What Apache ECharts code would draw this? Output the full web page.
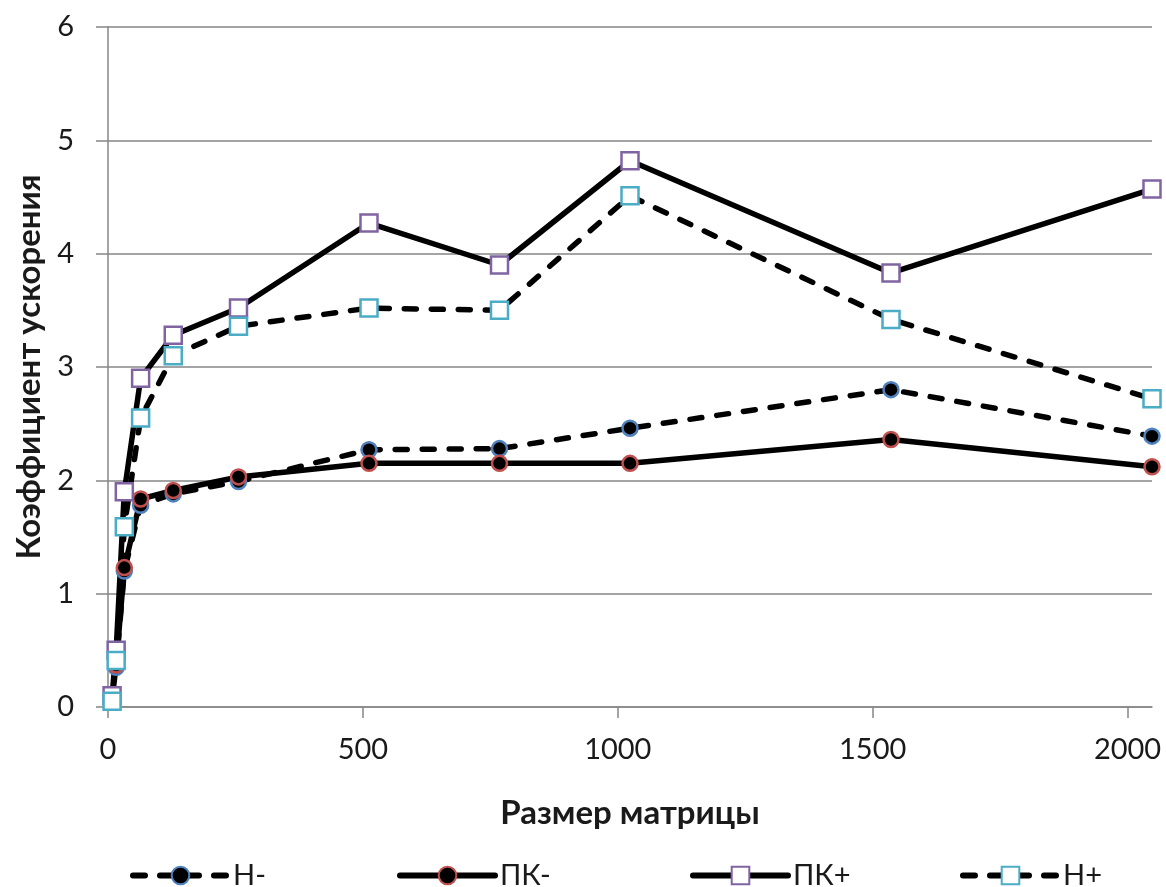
<!DOCTYPE html>
<html>
<head>
<meta charset="utf-8">
<script src="https://cdn.jsdelivr.net/npm/echarts@6/dist/echarts.min.js"></script>
<style>
html,body{margin:0;padding:0;background:#fff;}
#chart{width:1166px;height:887px;}
</style>
</head>
<body>
<div id="chart"></div>
<script>
const sizes = [8, 16, 32, 64, 128, 256, 512, 768, 1024, 1536, 2048];
const seriesNames = ['Н-', 'ПК-', 'ПК+', 'Н+'];
const hMinus  = [0.06, 0.35, 1.20, 1.78, 1.88, 1.99, 2.27, 2.28, 2.46, 2.80, 2.39];
const pkMinus = [0.07, 0.37, 1.23, 1.835, 1.91, 2.03, 2.15, 2.15, 2.15, 2.36, 2.12];
const pkPlus  = [0.10, 0.50, 1.90, 2.90, 3.28, 3.52, 4.27, 3.90, 4.82, 3.83, 4.57];
const hPlus   = [0.05, 0.41, 1.59, 2.55, 3.10, 3.36, 3.52, 3.50, 4.51, 3.42, 2.72];
const xTicks = [0, 500, 1000, 1500, 2000];
const yTicks = [0, 1, 2, 3, 4, 5, 6];

const FONT = 'Lato, "Open Sans", sans-serif';
const TXT = '#1a1a1a';
const GRID = '#868686';
const pair = arr => sizes.map((x, i) => [x, arr[i]]);
const dash = [12, 15];

function mk(name, data, dashed, symbol, fill, border, size) {
  return {
    name, type: 'line', data: pair(data),
    symbol, symbolSize: size,
    lineStyle: { color: '#000', width: 5.5, type: dashed ? dash : 'solid', cap: 'round', join: 'round' },
    itemStyle: { color: fill, borderColor: border, borderWidth: 2.5 },
    emphasis: { disabled: true },
    z: 2
  };
}

const chart = echarts.init(document.getElementById('chart'), null, { renderer: 'canvas' });

function legendAt(name, left) {
  return {
    data: [name], left, top: 861, orient: 'horizontal',
    itemWidth: 95, itemHeight: 22, itemGap: 0, padding: 0,
    lineStyle: { width: 6 },
    textStyle: { fontFamily: FONT, fontSize: 29, color: TXT }
  };
}

chart.setOption({
  animation: false,
  backgroundColor: '#fff',
  grid: { left: 108, right: 14, top: 27, bottom: 180, containLabel: false, outerBoundsMode: 'none' },
  legend: [
    legendAt('Н-', 130),
    legendAt('ПК-', 397),
    legendAt('ПК+', 690),
    legendAt('Н+', 960)
  ],
  xAxis: {
    type: 'value', min: 0, max: 2048,
    name: 'Размер матрицы', nameLocation: 'middle', nameGap: 90,
    nameTextStyle: { fontFamily: FONT, fontSize: 33, fontWeight: 'bold', color: TXT },
    axisLine: { show: true, lineStyle: { color: GRID, width: 1.5 } },
    axisTick: { show: true, length: 11, customValues: xTicks, lineStyle: { color: GRID, width: 1.5 } },
    axisLabel: { customValues: xTicks, formatter: v => String(v), fontFamily: FONT, fontSize: 29, color: TXT, margin: 28 },
    splitLine: { show: false }
  },
  yAxis: {
    type: 'value', min: 0, max: 6, interval: 1,
    name: 'Коэффициент ускорения', nameLocation: 'middle', nameGap: 62,
    nameTextStyle: { fontFamily: FONT, fontSize: 33, fontWeight: 'bold', color: TXT },
    axisLine: { show: true, lineStyle: { color: GRID, width: 1.5 } },
    axisTick: { show: true, length: 12, lineStyle: { color: GRID, width: 1.5 } },
    axisLabel: { formatter: v => String(v), fontFamily: FONT, fontSize: 29, color: TXT, margin: 34 },
    splitLine: { show: true, lineStyle: { color: GRID, width: 1.5 } }
  },
  series: [
    mk(seriesNames[0], hMinus, true, 'circle', '#000', '#4f81bd', 15),
    mk(seriesNames[1], pkMinus, false, 'circle', '#000', '#c0504d', 15),
    mk(seriesNames[2], pkPlus, false, 'rect', '#fff', '#8064a2', 17),
    mk(seriesNames[3], hPlus, true, 'rect', '#fff', '#4bacc6', 17)
  ]
});
</script>
</body>
</html>
